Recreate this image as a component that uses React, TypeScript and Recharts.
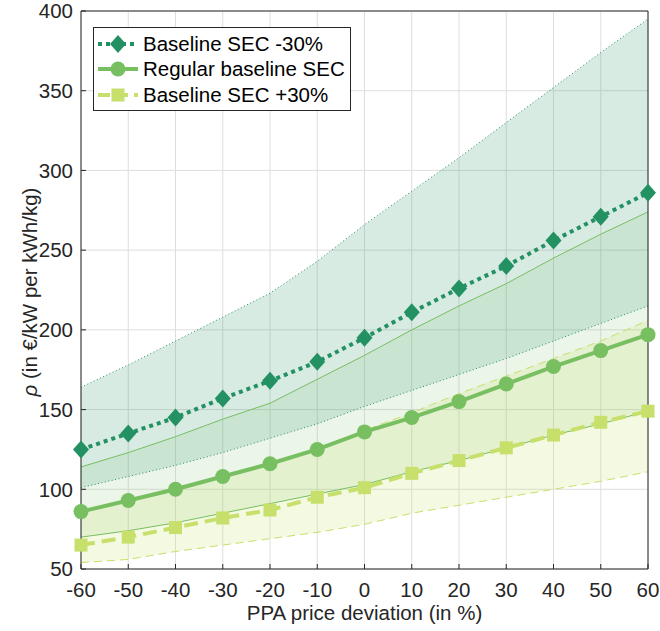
import { ComposedChart, Line, Area, XAxis, YAxis, CartesianGrid } from 'recharts';

const deviations = [-60, -50, -40, -30, -20, -10, 0, 10, 20, 30, 40, 50, 60];

// Baseline SEC -30%
const secMinus = [125, 135, 145, 157, 168, 180, 195, 211, 226, 240, 256, 271, 286];
const secMinusUpper = [164, 178, 193, 208, 223, 243, 266, 287, 308, 330, 352, 374, 395];
const secMinusLower = [101, 108, 115, 123, 132, 141, 152, 162, 172, 182, 193, 204, 215];

// Regular baseline SEC
const regular = [86, 93, 100, 108, 116, 125, 136, 145, 155, 166, 177, 187, 197];
const regularUpper = [114, 123, 133, 144, 154, 169, 184, 200, 215, 229, 245, 260, 274];
const regularLower = [70, 74, 79, 85, 91, 97, 103, 111, 118, 126, 134, 141, 149];

// Baseline SEC +30%
const secPlus = [65, 70, 76, 82, 87, 95, 101, 110, 118, 126, 134, 142, 149];
const secPlusUpper = [87, 93, 101, 108, 116, 125, 137, 148, 160, 171, 182, 193, 206];
const secPlusLower = [54, 56, 61, 65, 69, 73, 78, 85, 90, 95, 100, 105, 111];

const xTicks = [-60, -50, -40, -30, -20, -10, 0, 10, 20, 30, 40, 50, 60];
const yTicks = [50, 100, 150, 200, 250, 300, 350, 400];

const C_DARK = '#249163';
const C_MID = '#78bf62';
const C_LIGHT = '#c6e06b';
const AXIS = '#262626';
const FONT = '"Liberation Sans", Arial, Helvetica, sans-serif';

const data = deviations.map((x, i) => ({
  x,
  secMinus: secMinus[i],
  secMinusUpper: secMinusUpper[i],
  secMinusLower: secMinusLower[i],
  secMinusBand: [secMinusLower[i], secMinusUpper[i]],
  regular: regular[i],
  regularUpper: regularUpper[i],
  regularLower: regularLower[i],
  regularBand: [regularLower[i], regularUpper[i]],
  secPlus: secPlus[i],
  secPlusUpper: secPlusUpper[i],
  secPlusLower: secPlusLower[i],
  secPlusBand: [secPlusLower[i], secPlusUpper[i]],
}));

const Diamond = (props: any) => {
  const { cx, cy } = props;
  if (cx == null || cy == null) return null;
  return <polygon points={`${cx},${cy - 9} ${cx + 8},${cy} ${cx},${cy + 9} ${cx - 8},${cy}`} fill={C_DARK} />;
};

const Circle = (props: any) => {
  const { cx, cy } = props;
  if (cx == null || cy == null) return null;
  return <circle cx={cx} cy={cy} r={7.5} fill={C_MID} />;
};

const Square = (props: any) => {
  const { cx, cy } = props;
  if (cx == null || cy == null) return null;
  return <rect x={cx - 6.5} y={cy - 6.5} width={13} height={13} fill={C_LIGHT} />;
};

const YLabel = () => (
  <text
    x={0}
    y={0}
    transform="translate(37, 292) rotate(-90)"
    textAnchor="middle"
    fontFamily={FONT}
    fontSize={20.5}
    fill={AXIS}
  >
    <tspan fontStyle="italic">ρ</tspan>
    <tspan>{'  (in €/kW per kWh/kg)'}</tspan>
  </text>
);

const legendRows = [
  { label: 'Baseline SEC -30%', color: C_DARK, dash: '4 4', marker: 'diamond' },
  { label: 'Regular baseline SEC', color: C_MID, dash: undefined, marker: 'circle' },
  { label: 'Baseline SEC +30%', color: C_LIGHT, dash: '12 6', marker: 'square' },
];

function LegendBox() {
  return (
    <div
      style={{
        position: 'absolute',
        left: 93,
        top: 27,
        width: 256,
        height: 79,
        border: `1px solid ${AXIS}`,
        background: '#fff',
        fontFamily: FONT,
        fontSize: 20.5,
        color: '#000',
        paddingTop: 3,
        boxSizing: 'content-box',
      }}
    >
      {legendRows.map((r) => (
        <div key={r.label} style={{ display: 'flex', alignItems: 'center', height: 25.5 }}>
          <svg width={48} height={24} style={{ flex: 'none' }}>
            <line x1={4} y1={12} x2={44} y2={12} stroke={r.color} strokeWidth={4} strokeDasharray={r.dash} />
            {r.marker === 'diamond' && <polygon points="24,3 32,12 24,21 16,12" fill={r.color} />}
            {r.marker === 'circle' && <circle cx={24} cy={12} r={7.5} fill={r.color} />}
            {r.marker === 'square' && <rect x={17.5} y={5.5} width={13} height={13} fill={r.color} />}
          </svg>
          <span style={{ marginLeft: 1, whiteSpace: 'nowrap' }}>{r.label}</span>
        </div>
      ))}
    </div>
  );
}

export default function App() {
  const tickStyle = { fontSize: 20.5, fontFamily: FONT, fill: AXIS };
  return (
    <div style={{ position: 'absolute', left: 0, top: 0, width: 660, height: 631, background: '#fff' }}>
      <ComposedChart width={660} height={631} data={data} margin={{ top: 0, right: 0, bottom: 0, left: 0 }}>
        <CartesianGrid stroke="#dedede" strokeWidth={1} vertical horizontal />
        <XAxis
          dataKey="x"
          type="number"
          domain={[-60, 60]}
          ticks={xTicks}
          height={62}
          stroke={AXIS}
          tickSize={-5}
          tickMargin={18}
          tick={tickStyle}
          interval={0}
          label={{ value: 'PPA price deviation (in %)', position: 'insideBottom', offset: 11, style: { fontSize: 20.5, fontFamily: FONT, fill: AXIS } }}
        />
        <XAxis
          xAxisId="top"
          orientation="top"
          type="number"
          domain={[-60, 60]}
          ticks={xTicks}
          height={11}
          stroke={AXIS}
          tickSize={-5}
          tick={false}
        />
        <YAxis
          type="number"
          domain={[50, 400]}
          ticks={yTicks}
          width={81}
          stroke={AXIS}
          tickSize={-5}
          tickMargin={13}
          tick={tickStyle}
          interval={0}
          label={{ content: () => <YLabel /> }}
        />
        <YAxis
          yAxisId="right"
          orientation="right"
          type="number"
          domain={[50, 400]}
          ticks={yTicks}
          width={12}
          stroke={AXIS}
          tickSize={-5}
          tick={false}
        />

        <Area type="linear" dataKey="secMinusBand" stroke="none" fill={C_DARK} fillOpacity={0.18} isAnimationActive={false} activeDot={false} />
        <Area type="linear" dataKey="regularBand" stroke="none" fill={C_MID} fillOpacity={0.15} isAnimationActive={false} activeDot={false} />
        <Area type="linear" dataKey="secPlusBand" stroke="none" fill={C_LIGHT} fillOpacity={0.2} isAnimationActive={false} activeDot={false} />

        <Line type="linear" dataKey="secMinusUpper" stroke={C_DARK} strokeWidth={1} strokeDasharray="1 2.5" dot={false} activeDot={false} isAnimationActive={false} />
        <Line type="linear" dataKey="secMinusLower" stroke={C_DARK} strokeWidth={1} strokeDasharray="1 2.5" dot={false} activeDot={false} isAnimationActive={false} />
        <Line type="linear" dataKey="regularUpper" stroke={C_MID} strokeWidth={1} dot={false} activeDot={false} isAnimationActive={false} />
        <Line type="linear" dataKey="regularLower" stroke={C_MID} strokeWidth={1} dot={false} activeDot={false} isAnimationActive={false} />
        <Line type="linear" dataKey="secPlusUpper" stroke={C_LIGHT} strokeWidth={1} strokeDasharray="8 5" dot={false} activeDot={false} isAnimationActive={false} />
        <Line type="linear" dataKey="secPlusLower" stroke={C_LIGHT} strokeWidth={1} strokeDasharray="8 5" dot={false} activeDot={false} isAnimationActive={false} />

        <Line type="linear" dataKey="secPlus" stroke={C_LIGHT} strokeWidth={4} strokeDasharray="14 7" dot={<Square />} activeDot={false} isAnimationActive={false} />
        <Line type="linear" dataKey="regular" stroke={C_MID} strokeWidth={4} dot={<Circle />} activeDot={false} isAnimationActive={false} />
        <Line type="linear" dataKey="secMinus" stroke={C_DARK} strokeWidth={4} strokeDasharray="4 4" dot={<Diamond />} activeDot={false} isAnimationActive={false} />
      </ComposedChart>
      <LegendBox />
    </div>
  );
}
